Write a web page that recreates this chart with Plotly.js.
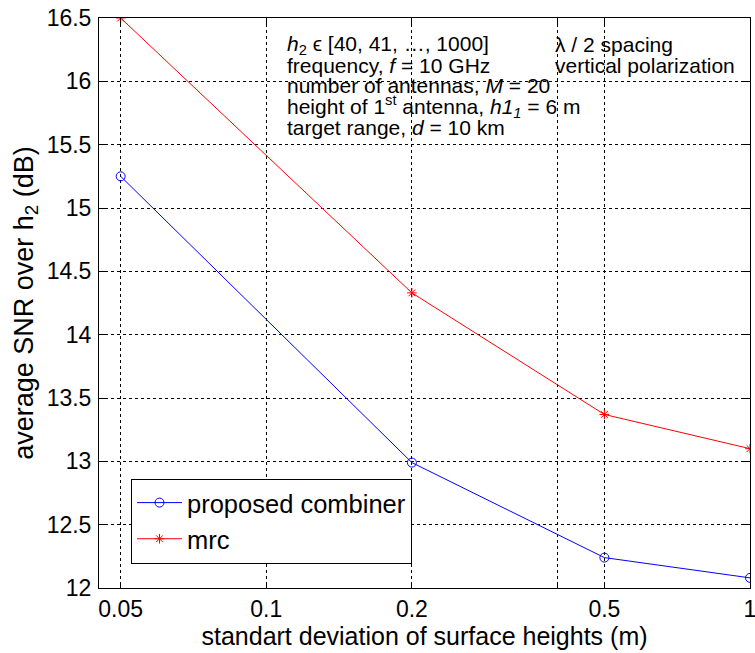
<!DOCTYPE html>
<html>
<head>
<meta charset="utf-8">
<script src="https://cdn.plot.ly/plotly-3.0.1.min.js"></script>
<style>html,body{margin:0;padding:0;background:#fff;}#chart{width:755px;height:653px;}</style>
</head>
<body>
<div id="chart"></div>
<script>
const sigma = [0.05, 0.2, 0.5, 1];
const proposed = [15.25, 12.99, 12.24, 12.08];
const mrc = [16.5, 14.33, 13.37, 13.10];
const xTickVals = [0.05, 0.1, 0.2, 0.5, 1];
const xTickText = ['0.05', '0.1', '0.2', '0.5', '1'];
const xExtraGrid = [0.4];
const yTickVals = [12, 12.5, 13, 13.5, 14, 14.5, 15, 15.5, 16, 16.5];
const yTickText = ['12', '12.5', '13', '13.5', '14', '14.5', '15', '15.5', '16', '16.5'];
const infoLeft = [
  '<i>h</i><sub>2</sub> ϵ [40, 41, …, 1000]',
  'frequency, <i>f</i> = 10 GHz',
  'number of antennas, <i>M</i> = 20',
  'height of 1<sup>st</sup> antenna, <i>h1</i><sub><i>1</i></sub> = 6 m',
  'target range, <i>d</i> = 10 km'
];
const infoRight = ['λ / 2 spacing', 'vertical polarization'];

const FONT = '"Liberation Sans", Arial, Helvetica, sans-serif';

const traces = [
  {x: sigma, y: proposed, name: 'proposed combiner', type: 'scatter', mode: 'lines+markers',
   line: {color: '#0000ff', width: 1}, marker: {symbol: 'circle-open', size: 9, color: '#0000ff', line: {width: 1}}},
  {x: sigma, y: mrc, name: 'mrc', type: 'scatter', mode: 'lines+markers',
   line: {color: '#ff0000', width: 1}, marker: {symbol: 'asterisk-open', size: 8, color: '#ff0000', line: {width: 1, color: '#ff0000'}}}
];

const lineYs = [45, 66, 86, 107, 128];
const pTop = 18, pBottom = 588.5, pLeft = 99, pRight = 750;
const toPY = c => (pBottom - c) / (pBottom - pTop);
const toPX = p => (p - pLeft) / (pRight - pLeft);
const annotations = [];
infoLeft.forEach((t, i) => annotations.push({text: t, xref: 'paper', yref: 'paper', x: toPX(285), y: toPY(lineYs[i]),
  xanchor: 'left', yanchor: 'middle', showarrow: false, font: {size: 21, color: '#000', family: FONT}}));
infoRight.forEach((t, i) => annotations.push({text: t, xref: 'paper', yref: 'paper', x: toPX(553), y: toPY(lineYs[i]),
  xanchor: 'left', yanchor: 'middle', showarrow: false, font: {size: 21, color: '#000', family: FONT}}));

const layout = {
  width: 755, height: 653,
  margin: {l: pLeft, r: 755 - pRight, t: pTop, b: 653 - pBottom},
  paper_bgcolor: '#fff', plot_bgcolor: '#fff',
  font: {family: FONT, color: '#000', size: 23},
  showlegend: true,
  legend: {x: toPX(131), y: toPY(564), xanchor: 'left', yanchor: 'bottom', bgcolor: '#fff',
           bordercolor: '#000', borderwidth: 1, itemwidth: 45, font: {size: 25.5, family: FONT, color: '#000'}},
  xaxis: {type: 'log', range: [Math.log10(0.0451), 0], tickvals: xTickVals, ticktext: xTickText,
          ticks: 'inside', ticklen: 6, tickcolor: '#000', showline: true, linecolor: '#000', linewidth: 1,
          mirror: 'ticks', showgrid: true, gridcolor: '#000', gridwidth: 1, griddash: '3px,3px',
          minor: {tickvals: xExtraGrid, ticks: 'inside', ticklen: 6, tickcolor: '#000', showgrid: true,
                  gridcolor: '#000', gridwidth: 1, griddash: '3px,3px'},
          zeroline: false, tickfont: {size: 23, family: FONT}, ticklabelstandoff: 0, ticklabeloverflow: 'allow',
          title: {text: 'standart deviation of surface heights (m)', font: {size: 25, family: FONT}, standoff: 6}},
  yaxis: {range: [12, 16.5], tickvals: yTickVals, ticktext: yTickText,
          ticks: 'inside', ticklen: 6, tickcolor: '#000', showline: true, linecolor: '#000', linewidth: 1,
          mirror: 'ticks', showgrid: true, gridcolor: '#000', gridwidth: 1, griddash: '3px,3px',
          zeroline: false, tickfont: {size: 23, family: FONT}, ticklabelstandoff: 2,
          title: {text: 'average SNR over h<sub>2</sub> (dB)', font: {size: 27, family: FONT}, standoff: 5}},
  annotations: annotations
};

Plotly.newPlot('chart', traces, layout, {displayModeBar: false, staticPlot: true});
</script>
</body>
</html>
